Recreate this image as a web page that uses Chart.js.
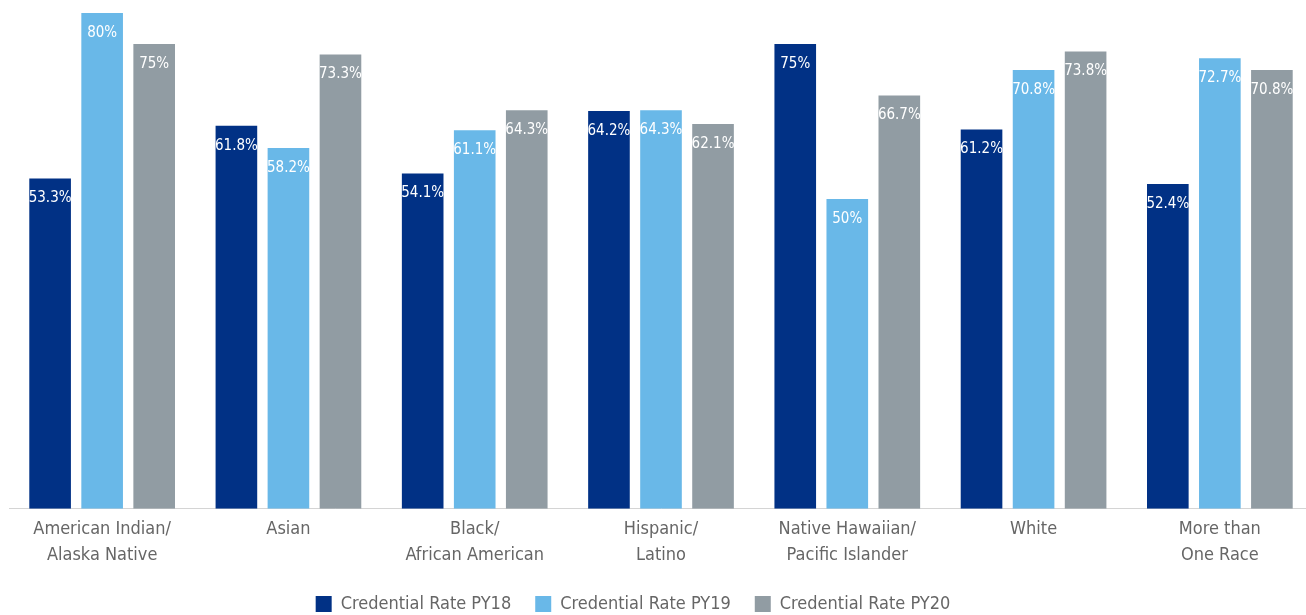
<!DOCTYPE html>
<html>
<head>
<meta charset="utf-8">
<script src="https://cdn.jsdelivr.net/npm/chart.js@4/dist/chart.umd.min.js"></script>
<style>
  html, body { margin: 0; padding: 0; background: #fff; overflow: hidden; }
  .wrap { width: 1314px; height: 615px; }
</style>
</head>
<body>
<div class="wrap"><canvas id="rateChart"></canvas></div>
<script>
const categories = [
    ['American Indian/', 'Alaska Native'],
    'Asian',
    ['Black/', 'African American'],
    ['Hispanic/', 'Latino'],
    ['Native Hawaiian/', 'Pacific Islander'],
    'White',
    ['More than', 'One Race']
];
const seriesNames = ['Credential Rate PY18', 'Credential Rate PY19', 'Credential Rate PY20'];
const ratePY18 = [53.3, 61.8, 54.1, 64.2, 75, 61.2, 52.4];
const ratePY19 = [80, 58.2, 61.1, 64.3, 50, 70.8, 72.7];
const ratePY20 = [75, 73.3, 64.3, 62.1, 66.7, 73.8, 70.8];
const seriesColors = ['#013185', '#69b8e8', '#919ca3'];

const fontStack = '"Liberation Sans Narrow", "DejaVu Sans Condensed", Roboto, sans-serif';

// white value labels just inside the top of each bar
const barValueLabels = {
    id: 'barValueLabels',
    afterDatasetsDraw(chart) {
        const ctx = chart.ctx;
        ctx.save();
        ctx.fillStyle = '#ffffff';
        ctx.font = '15px ' + fontStack;
        ctx.textAlign = 'center';
        ctx.textBaseline = 'middle';
        chart.data.datasets.forEach((ds, i) => {
            chart.getDatasetMeta(i).data.forEach((bar, j) => {
                ctx.fillText(ds.data[j] + '%', bar.x, bar.y + 20);
            });
        });
        ctx.restore();
    }
};

// nudge the legend up and a little left of the canvas centre
const legendShift = {
    id: 'legendShift',
    afterLayout(chart) {
        const lg = chart.legend;
        lg.left -= 28;
        lg.right -= 28;
        lg.top -= 4;
        lg.bottom -= 4;
    }
};

const ctx = document.getElementById('rateChart').getContext('2d');
new Chart(ctx, {
    type: 'bar',
    data: {
        labels: categories,
        datasets: [
            { label: seriesNames[0], data: ratePY18, backgroundColor: seriesColors[0] },
            { label: seriesNames[1], data: ratePY19, backgroundColor: seriesColors[1] },
            { label: seriesNames[2], data: ratePY20, backgroundColor: seriesColors[2] }
        ]
    },
    options: {
        responsive: true,
        maintainAspectRatio: false,
        animation: false,
        categoryPercentage: 0.838,
        barPercentage: 0.8,
        layout: { padding: { top: 13, left: 9, right: 1, bottom: -12 } },
        scales: {
            x: {
                grid: { display: false, drawTicks: false },
                border: { color: '#d4d4d4', width: 1 },
                ticks: {
                    color: '#666666',
                    padding: 7,
                    maxRotation: 0,
                    autoSkip: false,
                    font: { family: fontStack, size: 18, lineHeight: 1.45 }
                }
            },
            y: {
                display: false,
                min: 0,
                max: 80
            }
        },
        plugins: {
            legend: {
                position: 'bottom',
                labels: {
                    boxWidth: 16,
                    boxHeight: 16,
                    padding: 24,
                    color: '#666666',
                    font: { family: fontStack, size: 18 }
                }
            },
            tooltip: { enabled: false }
        }
    },
    plugins: [barValueLabels, legendShift]
});
</script>
</body>
</html>
